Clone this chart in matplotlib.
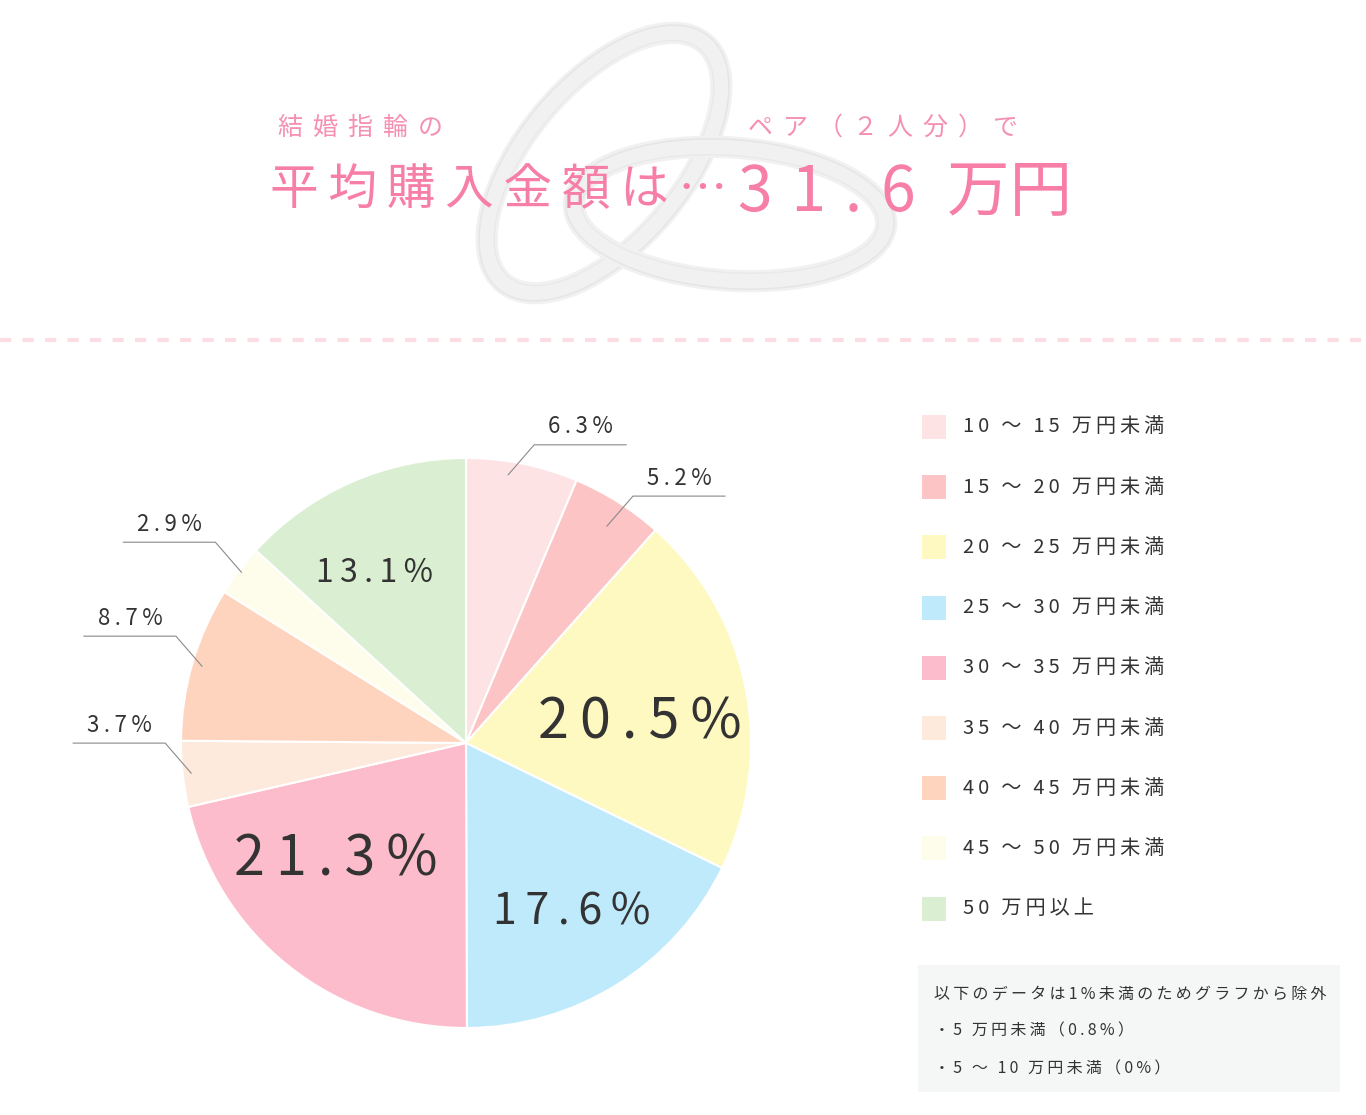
import numpy as np
import matplotlib
matplotlib.use("Agg")
import matplotlib.pyplot as plt
from matplotlib.patches import Ellipse, Rectangle

plt.rcParams['font.family'] = ['Noto Sans CJK JP', 'DejaVu Sans']

# data
categories = ['10 ～ 15 万円未満', '15 ～ 20 万円未満', '20 ～ 25 万円未満',
              '25 ～ 30 万円未満', '30 ～ 35 万円未満', '35 ～ 40 万円未満',
              '40 ～ 45 万円未満', '45 ～ 50 万円未満', '50 万円以上']
shares = [6.3, 5.2, 20.5, 17.6, 21.3, 3.7, 8.7, 2.9, 13.1]
colors = ['#fde3e3', '#fcc4c4', '#fef9c0', '#bfeafc', '#fdbccb',
          '#feeadd', '#fed4bf', '#fefdeb', '#daefd2']
excluded = ['5 万円未満（0.8%）', '5 ～ 10 万円未満（0%）']
average = '31.6'

W, H = 1366, 1115
TXT = '#333333'
PINK = '#f77ea6'
THIN, HAIR = '\u2009', '\u200a'


def Y(y):
    # reference pixel rows run downward
    return H - y


def sp(s, gap=THIN, word=THIN * 2):
    # fake letter spacing with thin spaces; a word gap becomes a wider gap
    out = [word if ch == ' ' else ch for ch in s]
    return gap.join(c for c in out if c)


fig = plt.figure(figsize=(W / 100, H / 100), dpi=100)
ax = fig.add_axes([0, 0, 1, 1])
ax.set_xlim(0, W)
ax.set_ylim(0, H)
ax.axis('off')

# rings behind the headline
for (ex, ey, w, h, ang) in [(604, 163, 335, 180, 50), (730, 214, 335, 155, -4)]:
    ax.add_patch(Ellipse((ex, Y(ey)), w - 22, h - 22, angle=ang, fill=False,
                         ec='#f1f1f1', lw=16, zorder=1))
    ax.add_patch(Ellipse((ex, Y(ey)), w - 6, h - 6, angle=ang, fill=False,
                         ec='#e6e6e6', lw=1.2, zorder=1))
    ax.add_patch(Ellipse((ex, Y(ey)), w - 38, h - 38, angle=ang, fill=False,
                         ec='#e9e9e9', lw=1.0, zorder=1))

ax.text(278, Y(128), sp('結婚指輪の', THIN * 2), fontsize=18, color='#f590b3',
        va='center', ha='left', zorder=3)
ax.text(748, Y(128), sp('ペア（２人分）で', THIN * 2), fontsize=18, color='#f590b3',
        va='center', ha='left', zorder=3)
ax.text(270, Y(190), sp('平均購入金額は…'), fontsize=35, color=PINK,
        va='center', ha='left', zorder=3)
g = THIN + HAIR
ax.text(738, Y(193), sp(average, g) + g + THIN + '万円', fontsize=45,
        color=PINK, va='center', ha='left', zorder=3)

# dashed separator
ax.plot([0, W], [Y(340), Y(340)], color='#fddde4', lw=3,
        dashes=(2.7, 2.7), solid_capstyle='butt')

# pie
cx, cy, R = 466, Y(743), 285
wedges, _ = ax.pie(shares, colors=colors, startangle=90, counterclock=False,
                   center=(cx, cy), radius=R, frame=True,
                   wedgeprops=dict(edgecolor='white', linewidth=1.5))
ax.set_xlim(0, W)
ax.set_ylim(0, H)
ax.axis('off')

mids = [np.deg2rad((w.theta1 + w.theta2) / 2) for w in wedges]

# labels inside big slices: index -> (radius fraction, size, nudge)
inner = {2: (0.62, 40, (0, -14)), 3: (0.70, 31, (0, 0)),
         4: (0.62, 40, (-20, 22)), 8: (0.69, 23, (-12, -10))}
for i, (rf, fs, (nx, ny)) in inner.items():
    x = cx + rf * R * np.cos(mids[i]) + nx
    y = cy + rf * R * np.sin(mids[i]) + ny
    ax.text(x, y, sp(f'{shares[i]}%'), fontsize=fs, color=TXT,
            ha='center', va='center')

# small slices with leader lines: index -> (radius fraction, x nudge)
outer = {0: (0.96, -12), 1: (0.90, 4), 5: (0.97, 0), 6: (0.965, 0), 7: (0.99, 0)}
for i, (rf, nx) in outer.items():
    sx = cx + rf * R * np.cos(mids[i]) + nx
    sy = cy + rf * R * np.sin(mids[i])
    side = 1 if np.cos(mids[i]) > 0 else -1
    ex, ey = sx + side * 26, sy + 30
    hx = ex + side * 92
    ax.plot([sx, ex, hx], [sy, ey, ey], color='#8a8a8a', lw=0.8)
    ax.text((ex + hx) / 2, ey + 18, sp(f'{shares[i]}%'), fontsize=16,
            color=TXT, ha='center', va='center')

# legend
for k, (lab, col) in enumerate(zip(categories, colors)):
    yy = 427 + k * 60.2
    ax.add_patch(Rectangle((922, Y(yy) - 12), 24, 24, fc=col, ec='none'))
    ax.text(963, Y(yy), sp(lab, THIN, THIN), fontsize=14.5, color=TXT,
            ha='left', va='center')

# note box
ax.add_patch(Rectangle((918, Y(1092)), 422, 127, fc='#f5f7f6', ec='none'))
ax.text(934, Y(994), sp('以下のデータは1%未満のためグラフから除外'),
        fontsize=11.5, color=TXT, ha='left', va='center')
for k, t in enumerate(excluded):
    ax.text(934, Y(1031 + k * 38), sp('・' + t, THIN, THIN), fontsize=11.5,
            color=TXT, ha='left', va='center')

fig.savefig('out.png', dpi=100, facecolor='white')
